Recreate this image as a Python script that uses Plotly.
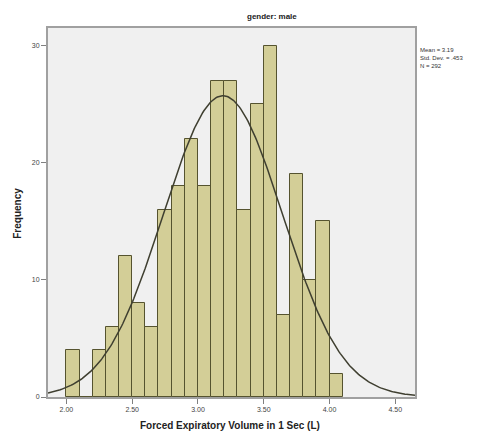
import numpy as np
import plotly.graph_objects as go

# Data
bin_start = 2.0
bin_width = 0.1
counts = [4, 0, 4, 6, 12, 8, 6, 16, 18, 22, 18, 27, 27, 16, 25, 30, 7, 19, 10, 15, 2]
mean_val = 3.19
sd_val = 0.453
n_val = 292
x_ticks = [2.0, 2.5, 3.0, 3.5, 4.0, 4.5]
y_ticks = [0, 10, 20, 30]

centers = [bin_start + bin_width * (i + 0.5) for i in range(len(counts))]

xs = np.linspace(1.86, 4.65, 300)
ys = n_val * bin_width / (sd_val * np.sqrt(2 * np.pi)) * np.exp(-0.5 * ((xs - mean_val) / sd_val) ** 2)

fig = go.Figure()
fig.add_trace(go.Bar(
    x=centers, y=counts, width=bin_width,
    marker=dict(color="#d3ce97", line=dict(color="#55532f", width=1)),
    showlegend=False,
))
fig.add_trace(go.Scatter(
    x=xs, y=ys, mode="lines",
    line=dict(color="#3f3f30", width=1.5),
    showlegend=False,
))

# page body has an 8px default margin, so the figure is sized to fit the window
fig.update_layout(
    width=479, height=430,
    margin=dict(l=40, r=72, t=20, b=41, autoexpand=False),
    paper_bgcolor="white",
    plot_bgcolor="#f0f0f0",
    font=dict(family="Liberation Sans, Arial, sans-serif", color="#333333", size=7),
    bargap=0,
    xaxis=dict(
        range=[1.86, 4.65], tickvals=x_ticks, tickformat=".2f",
        showgrid=False, zeroline=False, automargin=False,
        showline=True, mirror=True, linecolor="#a0a0a0", linewidth=2,
        ticks="outside", ticklen=5, tickcolor="#808080",
        tickfont=dict(size=7, color="#444444"),
    ),
    yaxis=dict(
        range=[0, 31.5], tickvals=y_ticks,
        showgrid=False, zeroline=False, automargin=False,
        showline=True, mirror=True, linecolor="#a0a0a0", linewidth=2,
        ticks="outside", ticklen=5, tickcolor="#808080",
        tickfont=dict(size=7, color="#444444"),
    ),
    annotations=[
        dict(text="<b>gender: male</b>", xref="paper", yref="paper",
             x=0.61, y=1.0, xanchor="center", yanchor="bottom", yshift=5,
             showarrow=False, font=dict(size=8, color="#222222")),
        dict(text="Mean = 3.19<br>Std. Dev. = .453<br>N = 292", xref="paper", yref="paper",
             x=1.008, y=0.955, xanchor="left", yanchor="top", align="left",
             showarrow=False, font=dict(size=6, color="#333333")),
        dict(text="<b>Frequency</b>", xref="paper", yref="paper",
             x=-0.082, y=0.499, xanchor="center", yanchor="middle", textangle=-90,
             showarrow=False, font=dict(size=10, color="#222222")),
        dict(text="<b>Forced Expiratory Volume in 1 Sec (L)</b>", xref="paper", yref="paper",
             x=0.496, y=-0.076, xanchor="center", yanchor="middle",
             showarrow=False, font=dict(size=10, color="#222222")),
    ],
)

fig.write_html("out.html")
